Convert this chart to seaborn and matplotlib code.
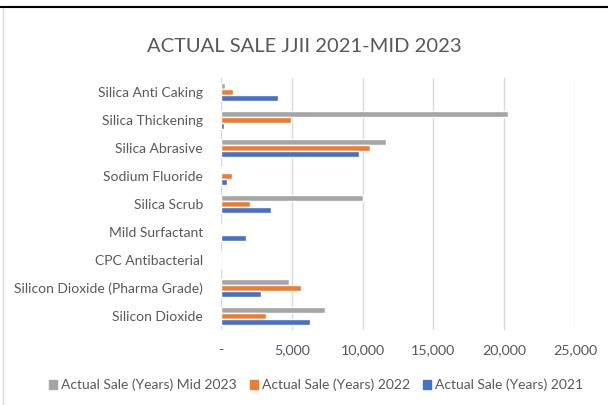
import matplotlib
matplotlib.use("Agg")
import matplotlib.pyplot as plt
import matplotlib.ticker as mticker
from matplotlib.lines import Line2D
import seaborn as sns
import pandas as pd

categories = ["Silica Anti Caking", "Silica Thickening", "Silica Abrasive", "Sodium Fluoride",
              "Silica Scrub", "Mild Surfactant", "CPC Antibacterial",
              "Silicon Dioxide (Pharma Grade)", "Silicon Dioxide"]
series = ["Actual Sale (Years) Mid 2023", "Actual Sale (Years) 2022", "Actual Sale (Years) 2021"]
mid2023 = [300, 20250, 11650, 100, 10000, 0, 0, 4800, 7350]
y2022 = [850, 4950, 10550, 800, 2050, 0, 0, 5650, 3200]
y2021 = [4050, 200, 9750, 450, 3500, 1800, 0, 2850, 6250]
xticks = [0, 5000, 10000, 15000, 20000, 25000]
title = "ACTUAL SALE JJII 2021-MID 2023"

colors = ["#A5A5A5", "#ED7D31", "#4472C4"]

rows = []
for s, vals in zip(series, [mid2023, y2022, y2021]):
    for c, v in zip(categories, vals):
        rows.append({"Product": c, "Series": s, "Value": v})
df = pd.DataFrame(rows)

sns.set_theme(style="white")
plt.rcParams["font.family"] = ["Lato", "DejaVu Sans"]

fig = plt.figure(figsize=(6.08, 4.05), dpi=100)
ax = fig.add_axes([221 / 608, 1 - 330 / 405, 354 / 608, 252 / 405])

sns.barplot(data=df, y="Product", x="Value", hue="Series", order=categories,
            hue_order=series, palette=colors, orient="h", width=0.63, gap=0,
            saturation=1, ax=ax, legend=False)

ax.set_xlim(0, 25000)
ax.set_xticks(xticks)
ax.xaxis.set_major_formatter(mticker.FuncFormatter(lambda v, p: "-" if v == 0 else f"{int(v):,}"))
ax.grid(axis="x", color="#D9D9D9", linewidth=1)
ax.set_axisbelow(True)
for sp in ax.spines.values():
    sp.set_visible(False)
ax.set_xlabel("")
ax.set_ylabel("")
ax.tick_params(axis="both", length=0, labelsize=10, colors="#595959")
ax.tick_params(axis="x", labelsize=10.3)
ax.tick_params(axis="y", pad=13)
ax.tick_params(axis="x", pad=10)

fig.text(0.5, 1 - 46 / 405, title, ha="center", va="center", fontsize=14.5, color="#595959")

handles = [plt.Rectangle((0, 0), 1, 1, color=c) for c in colors]
fig.legend(handles, series, loc="center", bbox_to_anchor=(0.52, 1 - 385 / 405), ncol=3,
           frameon=False, fontsize=10, handlelength=0.6, handleheight=0.6,
           handletextpad=0.3, columnspacing=0.9, labelcolor="#595959")

# chart frame lines
fig.add_artist(Line2D([0, 1], [1 - 7 / 405, 1 - 7 / 405], color="black", linewidth=1.5, transform=fig.transFigure))
fig.add_artist(Line2D([2.5 / 608, 2.5 / 608], [0, 1 - 8 / 405], color="#D9D9D9", linewidth=1, transform=fig.transFigure))

fig.savefig("out.png", dpi=100)
